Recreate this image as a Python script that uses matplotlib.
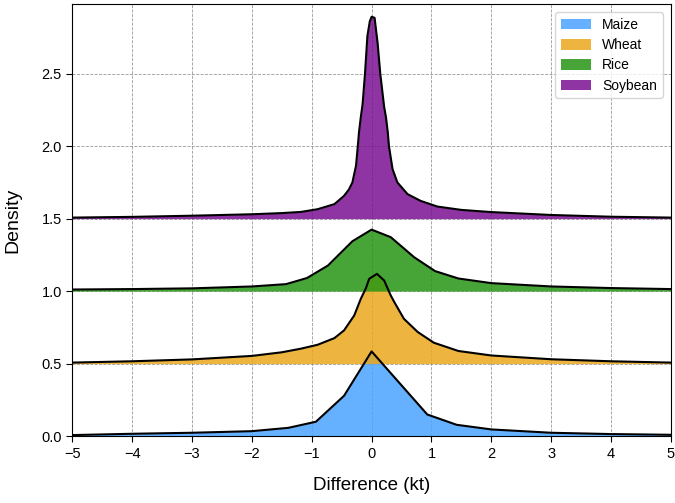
import matplotlib
matplotlib.use("Agg")
import matplotlib.pyplot as plt
import numpy as np

plt.rcParams['font.family'] = ['Liberation Sans', 'DejaVu Sans']

# ridge offsets and labels
crops = ['Maize', 'Wheat', 'Rice', 'Soybean']
offsets = [0.0, 0.5, 1.0, 1.5]
colors = ['#4BA4FF', '#EAA71D', '#279614', '#7C1093']

# density curves (x in kt, density above its ridge baseline)
maize_x = [-5, -4, -3, -2, -1.39, -0.93, -0.46, 0.0, 0.93, 1.42, 2.0, 3.0, 4.0, 5.0]
maize_y = [0.007, 0.016, 0.023, 0.034, 0.057, 0.099, 0.278, 0.584, 0.149, 0.078,
           0.046, 0.023, 0.014, 0.009]

wheat_x = [-5, -4, -3, -2, -1.5, -1.18, -0.9, -0.62, -0.46, -0.29, -0.18, -0.095,
           -0.04, 0.09, 0.21, 0.32, 0.38, 0.54, 0.77, 1.04, 1.45, 2.0, 3.0, 4.0, 5.0]
wheat_y = [0.007, 0.016, 0.029, 0.053, 0.078, 0.103, 0.13, 0.176, 0.229, 0.332,
           0.447, 0.52, 0.585, 0.619, 0.573, 0.47, 0.424, 0.309, 0.218, 0.144,
           0.087, 0.056, 0.03, 0.016, 0.007]

rice_x = [-5, -4, -3, -2, -1.43, -1.08, -0.73, -0.32, 0.0, 0.32, 0.71, 1.06,
          1.45, 2.0, 3.0, 4.0, 5.0]
rice_y = [0.011, 0.014, 0.019, 0.032, 0.048, 0.09, 0.176, 0.344, 0.424, 0.372,
          0.234, 0.138, 0.087, 0.055, 0.032, 0.021, 0.014]

soy_x = [-5, -4, -3, -2, -1.5, -1.18, -0.9, -0.62, -0.46, -0.38, -0.32, -0.26,
         -0.23, -0.21, -0.18, -0.15, -0.11, -0.07, -0.03, 0.0, 0.05, 0.1, 0.145,
         0.21, 0.24, 0.27, 0.29, 0.35, 0.43, 0.6, 0.82, 1.1, 1.5, 2.0, 3.0, 4.0, 5.0]
soy_y = [0.007, 0.012, 0.02, 0.03, 0.038, 0.046, 0.065, 0.1, 0.157, 0.2, 0.25,
         0.365, 0.5, 0.597, 0.7, 0.79, 1.0, 1.259, 1.36, 1.392, 1.385, 1.213, 1.0,
         0.77, 0.7, 0.597, 0.5, 0.342, 0.25, 0.169, 0.122, 0.083, 0.06, 0.045,
         0.025, 0.013, 0.007]

curves = [(maize_x, maize_y), (wheat_x, wheat_y), (rice_x, rice_y), (soy_x, soy_y)]

fig = plt.figure(figsize=(6.75, 5.03), dpi=100)
ax = fig.add_axes([0.107, 0.133, 0.887, 0.859])

for name, off, col, (xs, ys) in zip(crops, offsets, colors, curves):
    xs = np.array(xs)
    ys = np.array(ys) + off
    ax.fill_between(xs, off, ys, color=col, alpha=0.85, lw=0, label=name, zorder=2)
    ax.plot(xs, ys, color='black', lw=1.5, zorder=3)

ax.set_xlim(-5, 5)
ax.set_ylim(0, 2.98)
ax.set_xticks(np.arange(-5, 6, 1))
ax.set_yticks([0.0, 0.5, 1.0, 1.5, 2.0, 2.5])
ax.grid(True, linestyle='--', color='gray', lw=0.6, alpha=0.8, zorder=0)
ax.set_axisbelow(True)
ax.tick_params(labelsize=10.5, direction='out', length=4)
for s in ax.spines.values():
    s.set_color('black')

ax.set_xlabel('Difference (kt)', fontsize=13.5, labelpad=12)
ax.set_ylabel('Density', fontsize=14, labelpad=14)
ax.legend(loc='upper right', fontsize=10, handlelength=2.2, handleheight=0.8,
          labelspacing=0.45, borderaxespad=0.6)

fig.savefig('out.png', dpi=100)
